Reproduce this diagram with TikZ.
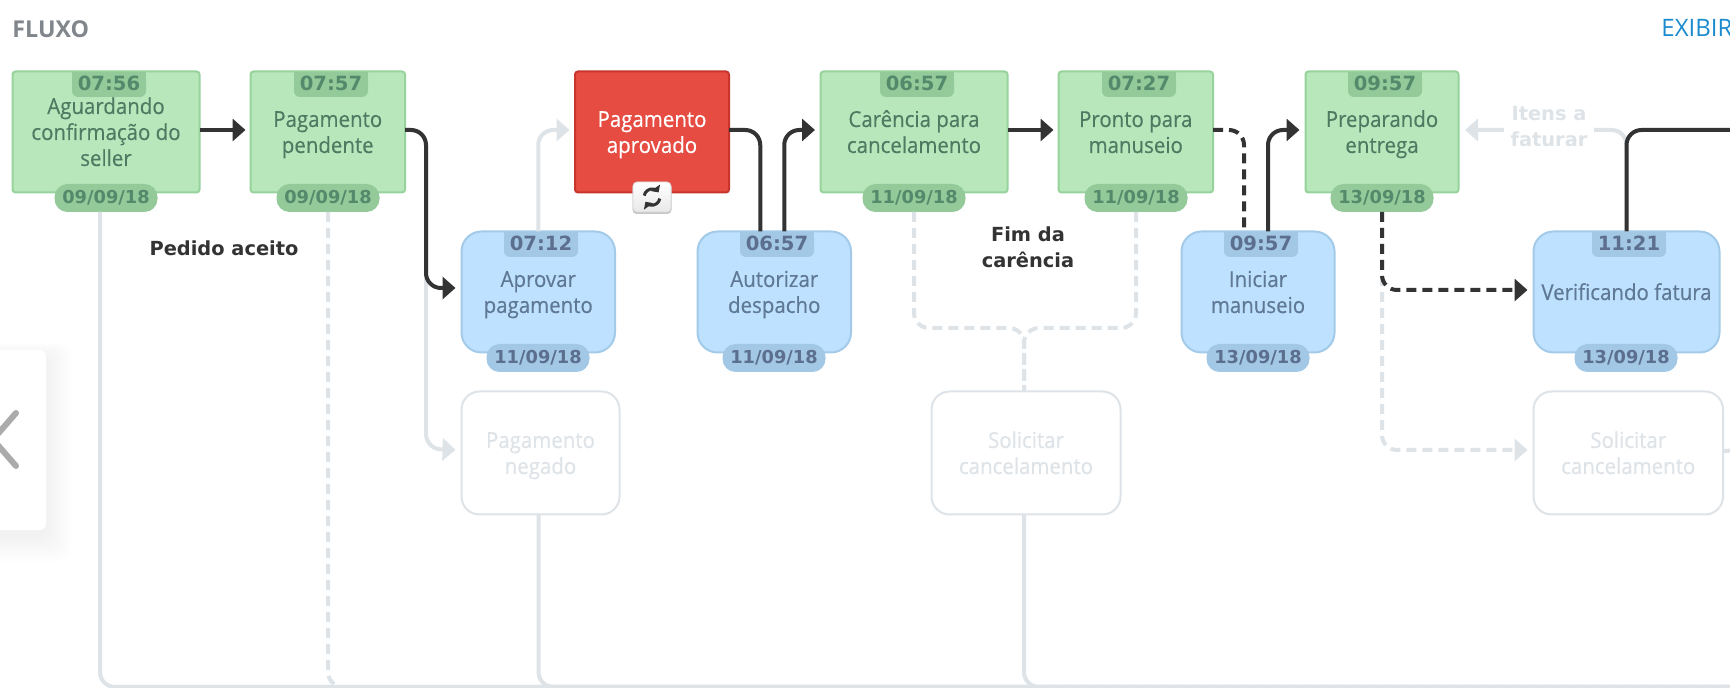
\documentclass[tikz,border=0pt]{standalone}
\usepackage{fontspec}
\setmainfont{Open Sans}[FakeStretch=0.93,FakeBold=0.35]
\newfontfamily\vfont{DejaVu Sans}
\newfontfamily\headfont{Open Sans}
\newfontfamily\linkfont{Open Sans}
\usetikzlibrary{arrows.meta}
\definecolor{grfill}{HTML}{B8E7BC}
\definecolor{grline}{HTML}{97D39C}
\definecolor{grtag}{HTML}{94CA99}
\definecolor{grtext}{HTML}{4F7A62}
\definecolor{grtagtext}{HTML}{55896B}
\definecolor{blfill}{HTML}{BDE1FE}
\definecolor{blline}{HTML}{A3CBE9}
\definecolor{bltag}{HTML}{A3C8E5}
\definecolor{bltext}{HTML}{5F7894}
\definecolor{bltagtext}{HTML}{5C6F8E}
\definecolor{redfill}{HTML}{E74C42}
\definecolor{redline}{HTML}{C8352C}
\definecolor{ghost}{HTML}{DEE3E8}
\definecolor{dark}{HTML}{333333}
\definecolor{headgray}{HTML}{80868B}
\definecolor{linkblue}{HTML}{1B8BD0}
\tikzset{
  x=0.5pt,y=-0.5pt,
  basebox/.style={inner sep=0pt,outer sep=0pt,align=center,font=\fontsize{11}{13}\selectfont,line width=1pt},
  greenbox/.style={basebox,draw=grline,fill=grfill,text=grtext,rounded corners=1.5pt},
  redbox/.style={basebox,draw=redline,fill=redfill,text=white,rounded corners=1.5pt},
  bluebox/.style={basebox,draw=blline,fill=blfill,text=bltext,rounded corners=10pt},
  ghostbox/.style={basebox,draw=ghost,fill=white,text=ghost,rounded corners=9pt},
  timetext/.style={inner sep=0pt,outer sep=0pt,font=\vfont\bfseries\fontsize{9.8}{11}\selectfont},
  datetext/.style={inner sep=0pt,outer sep=0pt,font=\vfont\bfseries\fontsize{8.9}{11}\selectfont},
  boldlabel/.style={inner sep=0pt,outer sep=0pt,align=center,font=\vfont\bfseries\fontsize{9.7}{13}\selectfont},
  tip/.style={-{Triangle[length=6.5pt,width=11pt]}},
  darkline/.style={draw=dark,line width=2pt,rounded corners=7.5pt},
  lightline/.style={draw=ghost,line width=2pt,rounded corners=7.5pt},
  dashline/.style={dash pattern=on 5pt off 3pt},
}
\newcommand\leadrule{\rule{0pt}{10.6pt}}
\newcommand\trailrule{\rule[-2.6pt]{0pt}{2.6pt}}
% name, style, x1, y1, x2, y2, label
\newcommand\stepnode[7]{%
  \node[#2,minimum width={(#5-#3-1)*0.5pt},minimum height={(#6-#4-1)*0.5pt}] (#1) at ({(#3+#5)/2},{(#4+#6)/2}) {\leadrule #7\trailrule};}
% name, centre x, top y, fill, text colour, text
\newcommand\timetag[6]{%
  \fill[#4,rounded corners=3pt] ({#2-37},#3) rectangle ({#2+37},{#3+25});
  \fill[#4] ({#2-37},#3) rectangle ({#2+37},{#3+10});
  \node[timetext,text=#5] (#1) at (#2,{#3+11}) {#6};}
% name, centre x, top y, fill, text colour, text
\newcommand\datetag[6]{%
  \node[datetext,text=#5,fill=#4,rounded corners=6.5pt,minimum width=51.5pt,minimum height=14pt] (#1) at (#2,{#3+14}) {#6};}
\begin{document}
\begin{tikzpicture}
\clip (0,0) rectangle (1730,688);
\fill[white] (0,0) rectangle (1730,688);
% side panel
\foreach \s in {2,4,...,26}{
  \fill[black,opacity=0.005,rounded corners=6pt] ({-30},{350-0.5*\s+6}) rectangle ({46+\s},{530+\s+6});}
\fill[white,rounded corners=3pt] (-30,350) rectangle (46,530);
\draw[draw=black!33,line width=3pt,line cap=round,line join=round] (16,413) -- (-7,439.5) -- (16,466);
% titles
\node[anchor=west,inner sep=0pt,text=headgray,font=\headfont\bfseries\fontsize{11.6}{13}\selectfont] (fluxo) at (12,29) {FLUXO};
\node[anchor=west,inner sep=0pt,text=linkblue,font=\linkfont\fontsize{12}{13}\selectfont] (exibir) at (1661,28) {EXIBIR};
% steps
\stepnode{b1}{greenbox}{12}{71}{200}{193}{Aguardando\\confirmação do\\seller}
\stepnode{b2}{greenbox}{250}{71}{405.5}{193}{Pagamento\\pendente}
\stepnode{red}{redbox}{574.5}{71}{729.5}{193}{Pagamento\\aprovado}
\stepnode{car}{greenbox}{820}{71}{1008}{193}{Carência para\\cancelamento}
\stepnode{pro}{greenbox}{1058}{71}{1213.5}{193}{Pronto para\\manuseio}
\stepnode{pre}{greenbox}{1305}{71}{1459}{193}{Preparando\\entrega}
\stepnode{apr}{bluebox}{461}{231}{615.5}{353}{Aprovar\\pagamento}
\stepnode{aut}{bluebox}{697}{231}{851.5}{353}{Autorizar\\despacho}
\stepnode{ini}{bluebox}{1181}{231}{1335}{353}{Iniciar\\manuseio}
\stepnode{ver}{bluebox}{1533}{231}{1720}{353}{Verificando fatura}
\stepnode{neg}{ghostbox}{461}{391}{620}{515}{Pagamento\\negado}
\stepnode{sol1}{ghostbox}{931}{391}{1121}{515}{Solicitar\\cancelamento}
\stepnode{sol2}{ghostbox}{1533}{391}{1723.5}{515}{Solicitar\\cancelamento}
% tags
\timetag{t1}{109}{72}{grtag}{grtagtext}{07:56}
\timetag{t2}{331}{72}{grtag}{grtagtext}{07:57}
\timetag{t3}{917}{72}{grtag}{grtagtext}{06:57}
\timetag{t4}{1139}{72}{grtag}{grtagtext}{07:27}
\timetag{t5}{1385}{72}{grtag}{grtagtext}{09:57}
\timetag{t6}{541}{232}{bltag}{bltagtext}{07:12}
\timetag{t7}{777}{232}{bltag}{bltagtext}{06:57}
\timetag{t8}{1261}{232}{bltag}{bltagtext}{09:57}
\timetag{t9}{1629}{232}{bltag}{bltagtext}{11:21}
\datetag{d1}{106}{184}{grtag}{grtagtext}{09/09/18}
\datetag{d2}{328}{184}{grtag}{grtagtext}{09/09/18}
\datetag{d3}{914}{184}{grtag}{grtagtext}{11/09/18}
\datetag{d4}{1136}{184}{grtag}{grtagtext}{11/09/18}
\datetag{d5}{1382}{184}{grtag}{grtagtext}{13/09/18}
\datetag{d6}{538}{344}{bltag}{bltagtext}{11/09/18}
\datetag{d7}{774}{344}{bltag}{bltagtext}{11/09/18}
\datetag{d8}{1258}{344}{bltag}{bltagtext}{13/09/18}
\datetag{d9}{1626}{344}{bltag}{bltagtext}{13/09/18}
% free labels
\node[boldlabel,text=dark] (pedido) at (224,248) {Pedido aceito};
\node[boldlabel,text=dark] (fim) at (1028,247) {Fim da\\carência};
% helper points
\coordinate (bus) at (1745,687);
\coordinate (offa) at (1745,130);
\coordinate (offb) at (1745,450);
\coordinate (jogB) at (426,288);
\coordinate (jogC) at (426,449);
\coordinate (join) at (1024,328);
% light connectors
\draw[lightline] ([xshift=-3pt]d1.south) |- (bus);
\draw[lightline,dashline] (d2.south) |- (bus);
\draw[lightline] ([xshift=-1pt]neg.south) |- (bus);
\draw[lightline] ([xshift=-1pt]sol1.south) |- (bus);
\draw[lightline,tip,shorten >=3pt] ([yshift=1pt]b2.east) -| (jogC) -- ([yshift=1.5pt]neg.west);
\draw[lightline,tip,shorten >=2.75pt] (apr.north) |- ([yshift=1pt]red.west);
\draw[lightline,dashline] (d3.south) |- (join) -- (join |- sol1.north);
\draw[lightline,dashline] (d4.south) |- (join) -- (join |- sol1.north);
\draw[lightline,dashline,tip,shorten >=3pt] (d5.south) |- ([yshift=1.5pt]sol2.west);
\draw[lightline,tip,shorten >=3.25pt] (ver.north) |- ([yshift=1pt]pre.east);
\draw[lightline] ([yshift=1pt]sol2.east) -- (offb);
\node[boldlabel,text=ghost,fill=white,minimum width=45pt] (itens) at (1549,127) {Itens a\\faturar};
% dark connectors
\draw[darkline,tip,shorten >=2.5pt] ([yshift=1pt]b1.east) -- ([yshift=1pt]b2.west);
\draw[darkline,tip,shorten >=3pt] ([yshift=1pt]b2.east) -| (jogB) -- ([yshift=2pt]apr.west);
\draw[darkline] ([yshift=1pt]red.east) -| ([xshift=-7pt]aut.north);
\draw[darkline,tip,shorten >=2.75pt] ([xshift=5pt]aut.north) |- ([yshift=1pt]car.west);
\draw[darkline,tip,shorten >=2.5pt] ([yshift=1pt]car.east) -- ([yshift=1pt]pro.west);
\draw[darkline,dashline] ([yshift=1pt]pro.east) -| ([xshift=-7pt]ini.north);
\draw[darkline,tip,shorten >=3pt] ([xshift=5pt]ini.north) |- ([yshift=1pt]pre.west);
\draw[darkline,dashline,tip,shorten >=3pt] (d5.south) |- ([yshift=1pt]ver.west);
\draw[darkline] (ver.north) |- (offa);
% reload button
\fill[black!22,rounded corners=2pt] (632.5,183) rectangle (671.5,214);
\node[inner sep=0pt,outer sep=0pt,draw=black!15,top color=white,bottom color=black!9,rounded corners=2pt,minimum width=19pt,minimum height=15pt] (reload) at (652,197) {};
\draw[dark,line width=1.5pt,-{Triangle[length=2.8pt,width=5.5pt]}] (644.2,195.6) arc[start angle=170,end angle=35,radius=4pt];
\draw[dark,line width=1.5pt,-{Triangle[length=2.8pt,width=5.5pt]}] (659.8,198.6) arc[start angle=-10,end angle=-145,radius=4pt];
\end{tikzpicture}
\end{document}
